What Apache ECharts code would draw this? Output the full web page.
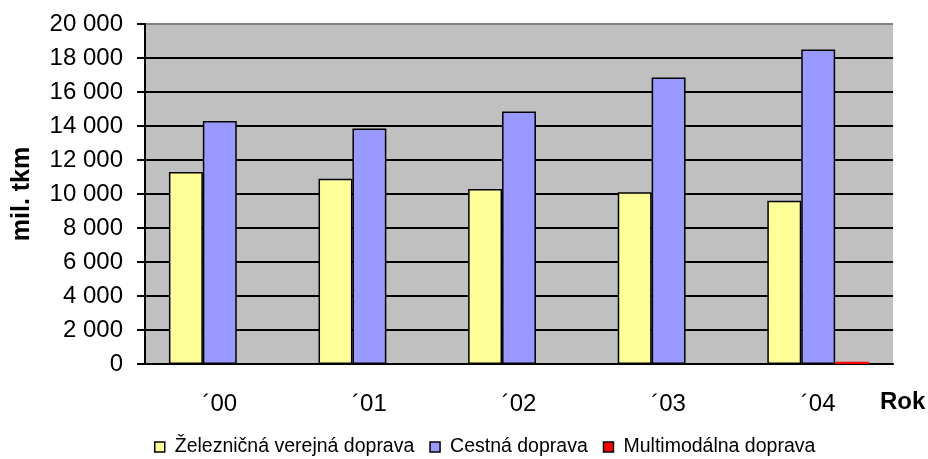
<!DOCTYPE html>
<html>
<head>
<meta charset="utf-8">
<script src="https://cdn.jsdelivr.net/npm/echarts@6/dist/echarts.min.js"></script>
<style>
  html, body { margin: 0; padding: 0; background: #fff; }
  #chart { width: 928px; height: 459px; }
</style>
</head>
<body>
<div id="chart"></div>
<script>
var years = ["\u00b400", "\u00b401", "\u00b402", "\u00b403", "\u00b404"];
var zeleznicna = [11300, 10900, 10300, 10100, 9600];
var cestna = [14300, 13850, 14850, 16850, 18500];
var multimodalna = [0, 0, 0, 0, 130];

var font = "'Liberation Sans', Arial, sans-serif";

function fmt(v) {
  return String(v).replace(/\B(?=(\d{3})+(?!\d))/g, " ");
}

// top gridline (20 000) is the gray plot border
var gridColors = [];
for (var i = 0; i < 10; i++) gridColors.push("#000");
gridColors.push("#808080");

var myChart = echarts.init(document.getElementById("chart"));
var option = {
  animation: false,
  textStyle: { fontFamily: font },
  grid: {
    left: 145, right: 35, top: 24, bottom: 95,
    show: true, backgroundColor: "#c0c0c0", borderWidth: 0
  },
  legend: {
    left: 149, top: 432,
    icon: "rect",
    itemWidth: 10, itemHeight: 10, itemGap: 15,
    textStyle: { fontSize: 19.5, color: "#000", fontFamily: font, padding: [0, 0, 0, 5] },
    data: [
      { name: "Železničná verejná doprava", itemStyle: { borderColor: "#000", borderWidth: 1.5 } },
      { name: "Cestná doprava", itemStyle: { borderColor: "#000", borderWidth: 1.5 } },
      { name: "Multimodálna doprava", itemStyle: { borderColor: "#000", borderWidth: 1.5 } }
    ]
  },
  xAxis: {
    type: "category",
    data: years,
    axisLine: { lineStyle: { color: "#000", width: 2 } },
    axisTick: { length: 7, lineStyle: { color: "#000", width: 2 } },
    axisLabel: { fontSize: 24, color: "#000", margin: 28, fontFamily: font }
  },
  yAxis: {
    type: "value",
    min: 0, max: 20000, interval: 2000,
    name: "mil. tkm",
    nameLocation: "middle",
    nameRotate: 90,
    nameGap: 110,
    nameTextStyle: { fontSize: 25, fontWeight: "bold", color: "#000", fontFamily: font },
    axisLine: { show: true, lineStyle: { color: "#000", width: 2 } },
    axisTick: { show: true, length: 8, lineStyle: { color: "#000", width: 2 } },
    axisLabel: { fontSize: 24, color: "#000", margin: 22, formatter: fmt, fontFamily: font },
    splitLine: { show: true, lineStyle: { color: gridColors, width: 2 } }
  },
  graphic: [
    {
      type: "text", left: 880, top: 390,
      style: { text: "Rok", font: "bold 24px " + font, fill: "#000" }
    }
  ],
  series: [
    {
      name: "Železničná verejná doprava", type: "bar", data: zeleznicna,
      barGap: "0%", barCategoryGap: "32%",
      itemStyle: { color: "#ffff99", borderColor: "#000", borderWidth: 1.5 }
    },
    {
      name: "Cestná doprava", type: "bar", data: cestna,
      itemStyle: { color: "#9999ff", borderColor: "#000", borderWidth: 1.5 }
    },
    {
      name: "Multimodálna doprava", type: "bar", data: multimodalna,
      itemStyle: { color: "#ff0000", borderWidth: 0 }
    }
  ]
};
option && myChart.setOption(option);
</script>
</body>
</html>
